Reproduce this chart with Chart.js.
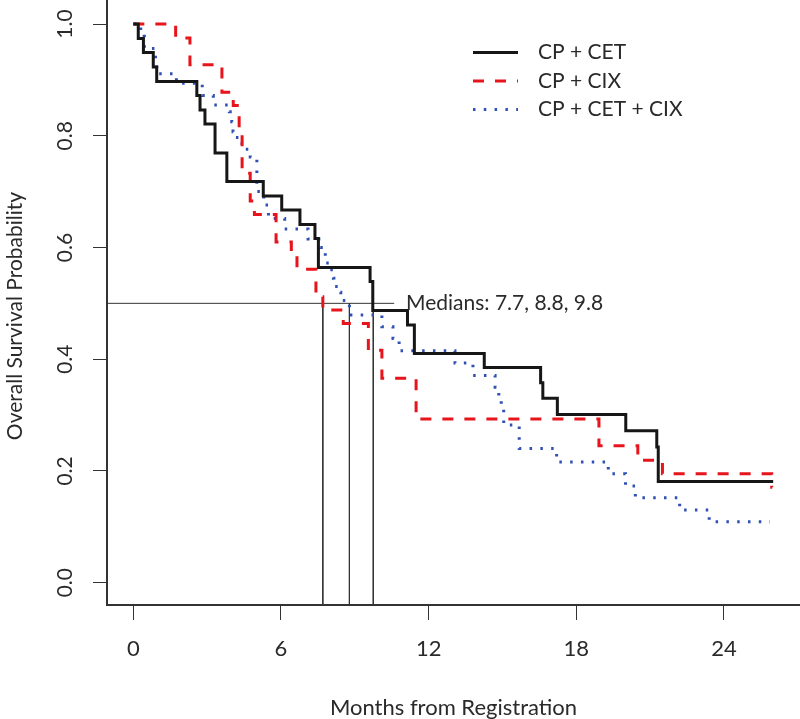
<!DOCTYPE html>
<html>
<head>
    <script src="https://cdn.jsdelivr.net/npm/chart.js"></script>
    <style>
        body {
            margin: 0;
            background-color: white;
        }
        canvas {
            display: block;
        }
    </style>
</head>
<body>
    <canvas id="kmChart" width="800" height="719"></canvas>

    <script>
        // Kaplan-Meier curves: month of each drop and survival just after it
        const seriesNames = ['CP + CET', 'CP + CIX', 'CP + CET + CIX'];

        const cetTimes = [0, 0.2, 0.41, 0.81, 0.95, 2.58, 2.71, 2.91, 3.32, 3.8, 5.28, 6.03, 6.77, 7.38, 7.52,
            9.62, 9.73, 11.14, 11.42, 14.26, 16.55, 16.64, 17.23, 20.01, 21.27, 21.33, 26.0];
        const cetSurv = [1, 0.974, 0.949, 0.923, 0.897, 0.872, 0.846, 0.821, 0.769, 0.718, 0.692, 0.667, 0.641, 0.616, 0.564,
            0.539, 0.487, 0.461, 0.41, 0.385, 0.358, 0.33, 0.301, 0.272, 0.243, 0.181, 0.181];

        const cixTimes = [0, 1.72, 2.3, 3.6, 4.06, 4.3, 4.42, 4.75, 4.92, 5.8, 6.42, 6.65, 7.42, 7.7, 8.53,
            9.55, 10.1, 11.49, 18.92, 20.5, 21.5, 25.94, 25.96];
        const cixSurv = [1, 0.975, 0.927, 0.878, 0.854, 0.805, 0.733, 0.683, 0.659, 0.61, 0.585, 0.561, 0.512, 0.488, 0.464,
            0.416, 0.366, 0.293, 0.245, 0.219, 0.195, 0.171, 0.171];

        const bothTimes = [0, 0.3, 0.45, 0.9, 0.95, 1.75, 2.8, 3.25, 3.9, 4.0, 4.05, 4.15, 4.35, 4.55, 4.75, 5.02, 5.3, 5.49,
            6.15, 7.1, 7.6, 7.75, 7.8, 8.0, 8.13, 8.15, 8.4, 8.43, 8.78, 10.1, 10.55, 10.8, 13.07, 13.8,
            14.7, 14.85, 14.95, 15.05, 15.68, 17.2, 19.3, 20.0, 20.4, 22.2, 23.4, 25.87];
        const bothSurv = [1, 0.978, 0.956, 0.933, 0.911, 0.894, 0.872, 0.855, 0.843, 0.825, 0.807, 0.797, 0.786, 0.776, 0.762, 0.70, 0.676, 0.652,
            0.633, 0.615, 0.60, 0.59, 0.572, 0.56, 0.545, 0.53, 0.52, 0.505, 0.479, 0.458, 0.437, 0.415, 0.393, 0.371,
            0.35, 0.33, 0.31, 0.282, 0.24, 0.216, 0.195, 0.173, 0.152, 0.13, 0.109, 0.109];

        // median survival times and the 50% reference line
        const medians = [7.7, 8.78, 9.75];
        const medianLevel = 0.5;
        const medianLineEnd = 10.6;
        const medianLabel = 'Medians: ' + medians.map(m => m.toFixed(1)).join(', ');

        const xTicks = [0, 6, 12, 18, 24];
        const yTicks = [0, 0.2, 0.4, 0.6, 0.8, 1.0];
        const xMin = -1.07, xMax = 27.09;
        const yMin = -0.04, yMax = 1.043;

        const FONT = 'Lato, "Open Sans", sans-serif';

        function km(times, surv) {
            return times.map((t, i) => ({ x: t, y: surv[i] }));
        }

        const curveStyle = {
            pointRadius: 0,
            fill: false,
            stepped: 'before',
            borderCapStyle: 'butt',
        };

        const datasets = [{
            ...curveStyle,
            label: seriesNames[0],
            data: km(cetTimes, cetSurv),
            borderColor: '#161616',
            borderWidth: 3,
        }, {
            ...curveStyle,
            label: seriesNames[1],
            data: km(cixTimes, cixSurv),
            borderColor: '#e8141c',
            borderWidth: 3,
            borderDash: [11, 11],
        }, {
            ...curveStyle,
            label: seriesNames[2],
            data: km(bothTimes, bothSurv),
            borderColor: '#3050b4',
            borderWidth: 3,
            borderDash: [2.5, 8.3],
        }];

        // thin median guide lines
        const guideStyle = { pointRadius: 0, fill: false, borderColor: '#333', borderWidth: 1 };
        datasets.push({ ...guideStyle, data: [{ x: xMin, y: medianLevel }, { x: medianLineEnd, y: medianLevel }] });
        medians.forEach(m => {
            datasets.push({ ...guideStyle, data: [{ x: m, y: medianLevel }, { x: m, y: yMin }] });
        });

        // draws rotated y tick labels, y title, legend and median text
        const extrasPlugin = {
            id: 'kmExtras',
            afterDraw(chart) {
                const ctx = chart.ctx;
                const xs = chart.scales.x, ys = chart.scales.y;
                ctx.save();
                ctx.fillStyle = '#2a2a2a';
                ctx.textAlign = 'center';
                ctx.textBaseline = 'middle';
                ctx.font = '21px ' + FONT;
                yTicks.forEach(v => {
                    ctx.save();
                    ctx.translate(65, ys.getPixelForValue(v));
                    ctx.rotate(-Math.PI / 2);
                    ctx.fillText(v.toFixed(1), 0, 0);
                    ctx.restore();
                });
                ctx.save();
                ctx.translate(15, 316);
                ctx.rotate(-Math.PI / 2);
                ctx.fillText('Overall Survival Probability', 0, 0);
                ctx.restore();

                // median text
                ctx.textAlign = 'left';
                ctx.fillText(medianLabel, xs.getPixelForValue(11.08), ys.getPixelForValue(medianLevel));

                // legend
                seriesNames.forEach((name, i) => {
                    const ds = chart.data.datasets[i];
                    const y = 52.5 + i * 28.5;
                    ctx.beginPath();
                    ctx.setLineDash(ds.borderDash || []);
                    ctx.lineWidth = ds.borderWidth;
                    ctx.strokeStyle = ds.borderColor;
                    ctx.moveTo(473, y);
                    ctx.lineTo(518, y);
                    ctx.stroke();
                    ctx.setLineDash([]);
                    ctx.fillText(name, 538, y);
                });
                ctx.restore();
            }
        };

        const chart = new Chart('kmChart', {
            type: 'line',
            data: { datasets: datasets },
            plugins: [extrasPlugin],
            options: {
                responsive: false,
                animation: false,
                layout: { padding: 0 },
                plugins: {
                    legend: { display: false },
                    tooltip: { enabled: false },
                },
                scales: {
                    x: {
                        type: 'linear',
                        min: xMin,
                        max: xMax,
                        afterBuildTicks: scale => {
                            scale.ticks = xTicks.map(v => ({ value: v }));
                        },
                        afterFit: scale => {
                            scale.height = 114;
                        },
                        ticks: {
                            color: '#2a2a2a',
                            font: { family: FONT, size: 22 },
                            padding: 16,
                            maxRotation: 0,
                            callback: v => String(v),
                        },
                        grid: {
                            drawOnChartArea: false,
                            drawTicks: true,
                            tickLength: 15,
                            color: '#333',
                            lineWidth: 1,
                        },
                        border: { display: true, color: '#333', width: 2 },
                        title: {
                            display: true,
                            text: 'Months from Registration',
                            color: '#2a2a2a',
                            font: { family: FONT, size: 22, lineHeight: 1 },
                            padding: 0,
                        },
                    },
                    y: {
                        type: 'linear',
                        min: yMin,
                        max: yMax,
                        afterBuildTicks: scale => {
                            scale.ticks = yTicks.map(v => ({ value: v }));
                        },
                        afterFit: scale => {
                            scale.width = 107;
                        },
                        ticks: { display: false },
                        grid: {
                            drawOnChartArea: false,
                            drawTicks: true,
                            tickLength: 14,
                            color: '#333',
                            lineWidth: 1,
                        },
                        border: { display: true, color: '#333', width: 2 },
                    },
                },
            },
        });
    </script>
</body>
</html>
